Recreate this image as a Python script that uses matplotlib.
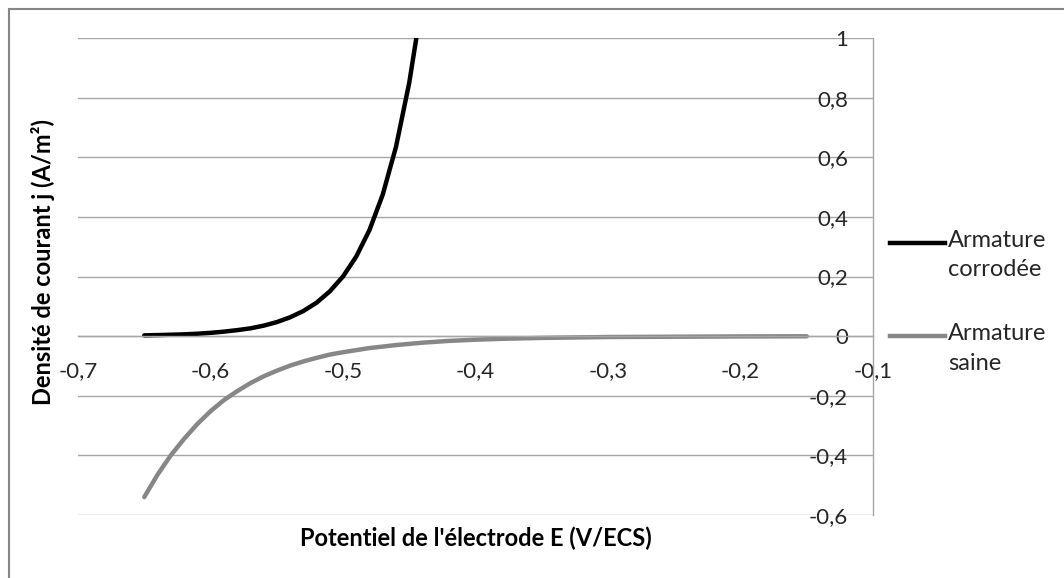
import matplotlib
matplotlib.use("Agg")
import matplotlib.pyplot as plt
from matplotlib.lines import Line2D

plt.rcParams['font.family'] = ['Lato', 'DejaVu Sans']

# Data
E_corrodee = [-0.65, -0.64, -0.63, -0.62, -0.61, -0.60, -0.59, -0.58, -0.57, -0.56,
              -0.55, -0.54, -0.53, -0.52, -0.51, -0.50, -0.49, -0.48, -0.47, -0.46,
              -0.45, -0.44]
j_corrodee = [0.0026, 0.0035, 0.0047, 0.006, 0.008, 0.011, 0.015, 0.020, 0.026, 0.035,
              0.047, 0.063, 0.084, 0.112, 0.15, 0.20, 0.267, 0.356, 0.475, 0.635,
              0.85, 1.13]

E_saine = [-0.65, -0.64, -0.63, -0.62, -0.61, -0.60, -0.59, -0.58, -0.57, -0.56,
           -0.55, -0.54, -0.53, -0.52, -0.51, -0.50, -0.48, -0.46, -0.44, -0.42,
           -0.40, -0.38, -0.35, -0.30, -0.25, -0.20, -0.15]
j_saine = [-0.54, -0.465, -0.40, -0.345, -0.295, -0.252, -0.215, -0.185, -0.158, -0.135,
           -0.116, -0.099, -0.085, -0.073, -0.062, -0.054, -0.040, -0.030, -0.022, -0.016,
           -0.012, -0.009, -0.006, -0.003, -0.002, -0.001, -0.0005]

x_ticks = [-0.7, -0.6, -0.5, -0.4, -0.3, -0.2, -0.1]
y_ticks = [-0.6, -0.4, -0.2, 0, 0.2, 0.4, 0.6, 0.8, 1]

labels = ["Armature\ncorrodée", "Armature\nsaine"]
colors = ["#000000", "#878787"]

W, H = 1064, 578
fig = plt.figure(figsize=(W / 100, H / 100), dpi=100)

# plot area in pixels
L, R, T, B = 78, 873, 38, 515
ax = fig.add_axes([L / W, 1 - B / H, (R - L) / W, (B - T) / H])
ax.set_xlim(-0.7, -0.1)
ax.set_ylim(-0.6, 1)

grid_c = "#a6a6a6"
ax.set_yticks(y_ticks)
ax.yaxis.grid(True, color=grid_c, linewidth=1.0)
ax.set_axisbelow(True)

for s in ['top', 'left']:
    ax.spines[s].set_visible(False)
ax.spines['right'].set_color(grid_c)
ax.spines['right'].set_linewidth(1.0)
ax.spines['bottom'].set_position(('data', 0))
ax.spines['bottom'].set_color(grid_c)
ax.spines['bottom'].set_linewidth(1.0)

def fmt(v):
    return ("%g" % v).replace('.', ',')

TFS = 16
ax.set_xticks(x_ticks)
ax.set_xticklabels([fmt(v) for v in x_ticks])
ax.set_yticklabels([fmt(v) for v in y_ticks])

ax.tick_params(axis='x', length=0, pad=18, labelsize=TFS, colors='#262626')
ax.tick_params(axis='y', which='both', left=False, right=False, labelleft=False,
               labelright=True, length=0, pad=-18, labelsize=TFS, colors='#262626')
for t in ax.get_yticklabels():
    t.set_horizontalalignment('right')

ax.plot(E_corrodee, j_corrodee, color=colors[0], lw=3.2, solid_capstyle='round')
ax.plot(E_saine, j_saine, color=colors[1], lw=3.2, solid_capstyle='round')

# axis titles
fig.text(476 / W, 1 - 538 / H, "Potentiel de l'électrode E (V/ECS)", ha='center', va='center',
         fontsize=17, fontweight='bold', color='#000000')
fig.text(43 / W, 1 - 262 / H, "Densité de courant j (A/m²)", ha='center', va='center',
         rotation=90, fontsize=17, fontweight='bold', color='#000000')

# legend
leg_y = [243, 336]
for yy, c, lab in zip(leg_y, colors, labels):
    fig.add_artist(Line2D([890 / W, 945 / W], [1 - yy / H, 1 - yy / H], color=c, lw=3.2,
                          transform=fig.transFigure))
    fig.text(948 / W, 1 - (yy - 13) / H, lab, ha='left', va='top', fontsize=17,
             color='#262626', linespacing=1.5)

# outer chart border (left and top visible)
bc = "#868686"
fig.add_artist(Line2D([8.5 / W, 8.5 / W], [0, 1 - 8.5 / H], color=bc, lw=1.5, transform=fig.transFigure))
fig.add_artist(Line2D([8.5 / W, 1], [1 - 8.5 / H, 1 - 8.5 / H], color=bc, lw=1.5, transform=fig.transFigure))

fig.savefig("out.png", dpi=100)
